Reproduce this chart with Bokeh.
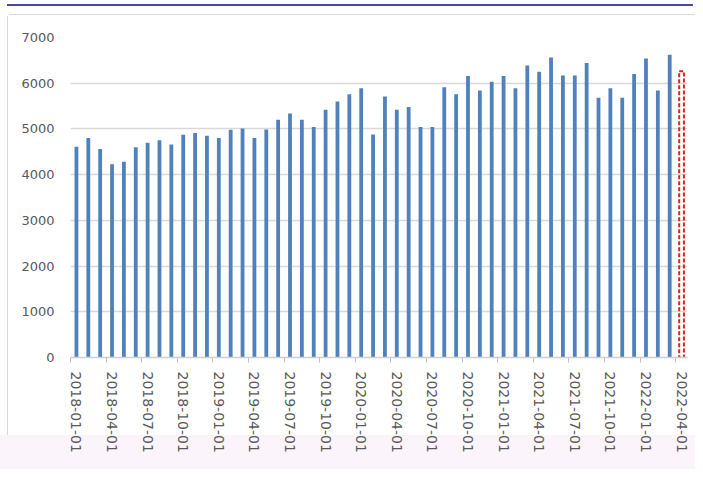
from bokeh.plotting import figure
from bokeh.models import FixedTicker, Range1d
from bokeh.embed import file_html
from bokeh.resources import INLINE

# ---- data ----
months = [f"{y}-{m:02d}-01" for y in range(2018, 2023) for m in range(1, 13)][:52]
values = [4610, 4800, 4560, 4230, 4280, 4600, 4700, 4750, 4660, 4870, 4910, 4850,
          4800, 4980, 5010, 4800, 4990, 5200, 5340, 5200, 5040, 5420, 5600, 5760,
          5890, 4880, 5710, 5420, 5480, 5040, 5040, 5910, 5760, 6160, 5840, 6030,
          6160, 5890, 6390, 6250, 6560, 6170, 6170, 6440, 5680, 5890, 5680, 6200,
          6540, 5840, 6620]
forecast_month = "2022-04-01"
forecast_value = 6260
label_every = 3
y_ticks = [0, 1000, 2000, 3000, 4000, 5000, 6000, 7000]

idx = list(range(len(values)))
f_idx = months.index(forecast_month)

p = figure(width=695, height=469, output_backend="svg", toolbar_location=None,
           x_range=Range1d(-0.5, len(months) - 0.5), y_range=Range1d(0, 7000),
           min_border_left=70, min_border_right=8, min_border_top=37,
           min_border_bottom=112)
p.outline_line_color = None
p.background_fill_color = "white"
p.border_fill_color = None
p.styles = {
    "background": (
        "linear-gradient(#4b4b9b,#4b4b9b) 7px 4px / 686px 2px no-repeat, "
        "linear-gradient(#fbf4fa,#fbf4fa) 0 435px / 100% 60px no-repeat, "
        "linear-gradient(#d9d9d9,#d9d9d9) 9px 14px / 690px 1px no-repeat, "
        "linear-gradient(#d9d9d9,#d9d9d9) 7px 16px / 1px 420px no-repeat, "
        "white"
    )
}

p.vbar(x=idx, top=values, width=0.32, bottom=0, fill_color="#4f81bd",
       line_color=None)
p.vbar(x=[f_idx], top=[forecast_value], bottom=0, width=0.4, fill_color=None,
       line_color="#d9261c", line_width=2, line_dash="4 2")

# y axis
p.yaxis.ticker = FixedTicker(ticks=y_ticks)
p.yaxis.axis_line_color = None
p.yaxis.major_tick_line_color = None
p.yaxis.minor_tick_line_color = None
p.yaxis.major_tick_out = 0
p.yaxis.major_label_standoff = 16
p.yaxis.major_label_text_font = "DejaVu Sans"
p.yaxis.major_label_text_font_size = "13px"
p.yaxis.major_label_text_color = "#595959"
p.ygrid.grid_line_color = "#d9d9d9"
p.ygrid.grid_line_width = 1.5
p.xgrid.grid_line_color = None

# x axis
label_pos = list(range(0, len(months), label_every))
bounds = [i - 0.5 for i in range(0, len(months), label_every)]
p.xaxis.ticker = FixedTicker(ticks=label_pos, minor_ticks=bounds)
p.xaxis.major_label_overrides = {i: months[i] for i in label_pos}
p.xaxis.major_label_orientation = "vertical"
p.xaxis.major_tick_line_color = None
p.xaxis.major_tick_out = 0
p.xaxis.major_tick_in = 0
p.xaxis.minor_tick_line_color = "#bfbfbf"
p.xaxis.minor_tick_out = 5
p.xaxis.minor_tick_in = 0
p.xaxis.axis_line_color = "#d0d0d0"
p.xaxis.axis_line_width = 1.5
p.xaxis.major_label_standoff = 9
p.xaxis.major_label_text_font = "DejaVu Sans"
p.xaxis.major_label_text_font_size = "14px"
p.xaxis.major_label_text_color = "#595959"

open("out.html", "w").write(file_html(p, INLINE))
